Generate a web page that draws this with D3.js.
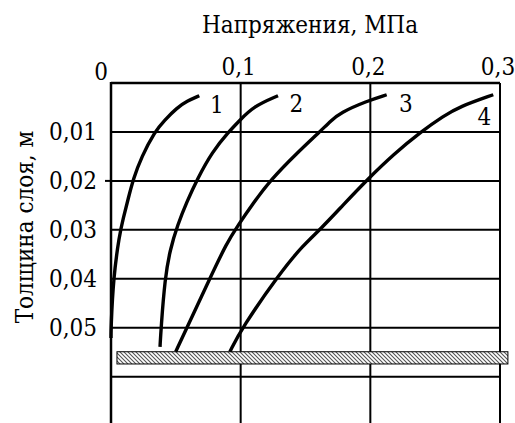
<!DOCTYPE html>
<html>
<head>
<meta charset="utf-8">
<script src="https://cdn.jsdelivr.net/npm/d3@7"></script>
<style>
  body { margin: 0; background: #fff; }
</style>
</head>
<body>
<svg id="chart" width="515" height="423"></svg>
<script>
var serif = "DejaVu Serif";

// stress ticks (MPa) and depth ticks (m)
var stressTicks = [0.1, 0.2, 0.3];
var depthTicks = [0.01, 0.02, 0.03, 0.04, 0.05, 0.06];
var depthLabels = ["0,01", "0,02", "0,03", "0,04", "0,05", ""];
var stressLabels = ["0,1", "0,2", "0,3"];

// curves as [stress, depth]
var curve1 = [[0.0681, 0.0026], [0.0586, 0.0037], [0.0507, 0.0051], [0.0413, 0.0076], [0.0338, 0.0099], [0.0235, 0.0151],
  [0.0172, 0.0196], [0.0133, 0.0236], [0.0095, 0.0276], [0.0064, 0.0311], [0.0018, 0.0399], [0.0, 0.0501], [0.0, 0.0521]];
var curve2 = [[0.1288, 0.0026], [0.1097, 0.0048], [0.0987, 0.0078], [0.0910, 0.0099], [0.0779, 0.0141], [0.0666, 0.0196],
  [0.0586, 0.0242], [0.0513, 0.0290], [0.0455, 0.0341], [0.0416, 0.0399], [0.0386, 0.0501], [0.0378, 0.0539]];
var curve3 = [[0.2126, 0.0024], [0.1972, 0.0037], [0.1766, 0.0061], [0.1697, 0.0077], [0.1612, 0.0099], [0.1427, 0.0145],
  [0.1234, 0.0197], [0.1087, 0.0249], [0.0982, 0.0290], [0.0892, 0.0327], [0.0763, 0.0399], [0.0584, 0.0501], [0.0499, 0.0549]];
var curve4 = [[0.2948, 0.0024], [0.2691, 0.0048], [0.2562, 0.0068], [0.2394, 0.0099], [0.2182, 0.0145], [0.1974, 0.0198],
  [0.1791, 0.0249], [0.1611, 0.0300], [0.1483, 0.0331], [0.1303, 0.0388], [0.1008, 0.0501], [0.0917, 0.0549]];
var curveNames = ["1", "2", "3", "4"];
// where each curve number sits, [stress, depth]
var nameSpots = [[0.0817, 0.0061], [0.143, 0.0059], [0.2275, 0.0059], [0.288, 0.0086]];
// hatched base under the layer, [stress from, stress to], [depth from, depth to]
var baseStress = [0.0046, 0.3061];
var baseDepth = [0.0549, 0.0574];

var svg = d3.select("#chart");

var x = d3.scaleLinear().domain([0, 0.3]).range([111, 500]);
var y = d3.scaleLinear().domain([0, 0.06]).range([83, 376.7]);
var bottom = 423;

// hatch for the base layer
var pat = svg.append("defs").append("pattern")
    .attr("id", "hatch")
    .attr("patternUnits", "userSpaceOnUse")
    .attr("width", 4)
    .attr("height", 4);
pat.append("rect").attr("width", 4).attr("height", 4).attr("fill", "#fff");
pat.append("path")
    .attr("d", "M-1,-1L5,5M-1,3L1,5M3,-1L5,1")
    .attr("stroke", "#555")
    .attr("stroke-width", 1.1);

// horizontal grid
svg.append("g").selectAll("line").data(depthTicks).enter().append("line")
    .attr("x1", x(0)).attr("x2", x(0.3))
    .attr("y1", function(d) { return y(d); })
    .attr("y2", function(d) { return y(d); })
    .attr("stroke", "#000").attr("stroke-width", 2);

// small tick at 0,02
svg.append("line")
    .attr("x1", x(0) - 6).attr("x2", x(0))
    .attr("y1", y(0.02)).attr("y2", y(0.02))
    .attr("stroke", "#000").attr("stroke-width", 2);

// vertical grid
svg.append("g").selectAll("line").data(stressTicks).enter().append("line")
    .attr("x1", function(d) { return x(d); })
    .attr("x2", function(d) { return x(d); })
    .attr("y1", y(0)).attr("y2", bottom)
    .attr("stroke", "#000").attr("stroke-width", 2);

// top border and left axis
svg.append("line")
    .attr("x1", x(0)).attr("x2", x(0.3))
    .attr("y1", y(0)).attr("y2", y(0))
    .attr("stroke", "#000").attr("stroke-width", 2.5);
svg.append("line")
    .attr("x1", x(0)).attr("x2", x(0))
    .attr("y1", y(0) - 1).attr("y2", bottom)
    .attr("stroke", "#000").attr("stroke-width", 2.5);

// base layer
svg.append("rect")
    .attr("x", x(baseStress[0]))
    .attr("y", y(baseDepth[0]))
    .attr("width", x(baseStress[1]) - x(baseStress[0]))
    .attr("height", y(baseDepth[1]) - y(baseDepth[0]))
    .attr("fill", "url(#hatch)")
    .attr("stroke", "#000")
    .attr("stroke-width", 1);

// curves
var line = d3.line()
    .x(function(d) { return x(d[0]); })
    .y(function(d) { return y(d[1]); })
    .curve(d3.curveBasis);

svg.append("g").selectAll("path").data([curve1, curve2, curve3, curve4]).enter().append("path")
    .attr("d", line)
    .attr("fill", "none")
    .attr("stroke", "#000")
    .attr("stroke-width", 3.4);

function label(sel) {
  return sel.attr("font-family", serif)
    .attr("font-size", 24)
    .style("font-stretch", "condensed")
    .attr("fill", "#000");
}

svg.append("g").selectAll("text").data(nameSpots).enter().append("text")
    .call(label)
    .attr("x", function(d) { return x(d[0]); })
    .attr("y", function(d) { return y(d[1]); })
    .attr("text-anchor", "middle")
    .text(function(d, i) { return curveNames[i]; });

// tick labels
svg.append("g").selectAll("text").data(stressTicks).enter().append("text")
    .call(label)
    .attr("x", function(d) { return x(d); })
    .attr("dx", -2)
    .attr("y", 75)
    .attr("text-anchor", "middle")
    .text(function(d, i) { return stressLabels[i]; });

svg.append("text")
    .call(label)
    .attr("x", 101)
    .attr("y", 80)
    .attr("text-anchor", "middle")
    .text("0");

svg.append("g").selectAll("text").data(depthTicks).enter().append("text")
    .call(label)
    .attr("x", 97)
    .attr("y", function(d) { return y(d); })
    .attr("dy", "0.35em")
    .attr("text-anchor", "end")
    .text(function(d, i) { return depthLabels[i]; });

// axis titles
svg.append("text")
    .call(label)
    .attr("x", 310)
    .attr("y", 33)
    .attr("text-anchor", "middle")
    .text("Напряжения, МПа");

svg.append("text")
    .call(label)
    .attr("transform", "translate(33,227)rotate(-90)")
    .attr("text-anchor", "middle")
    .text("Толщина слоя, м");
</script>
</body>
</html>
